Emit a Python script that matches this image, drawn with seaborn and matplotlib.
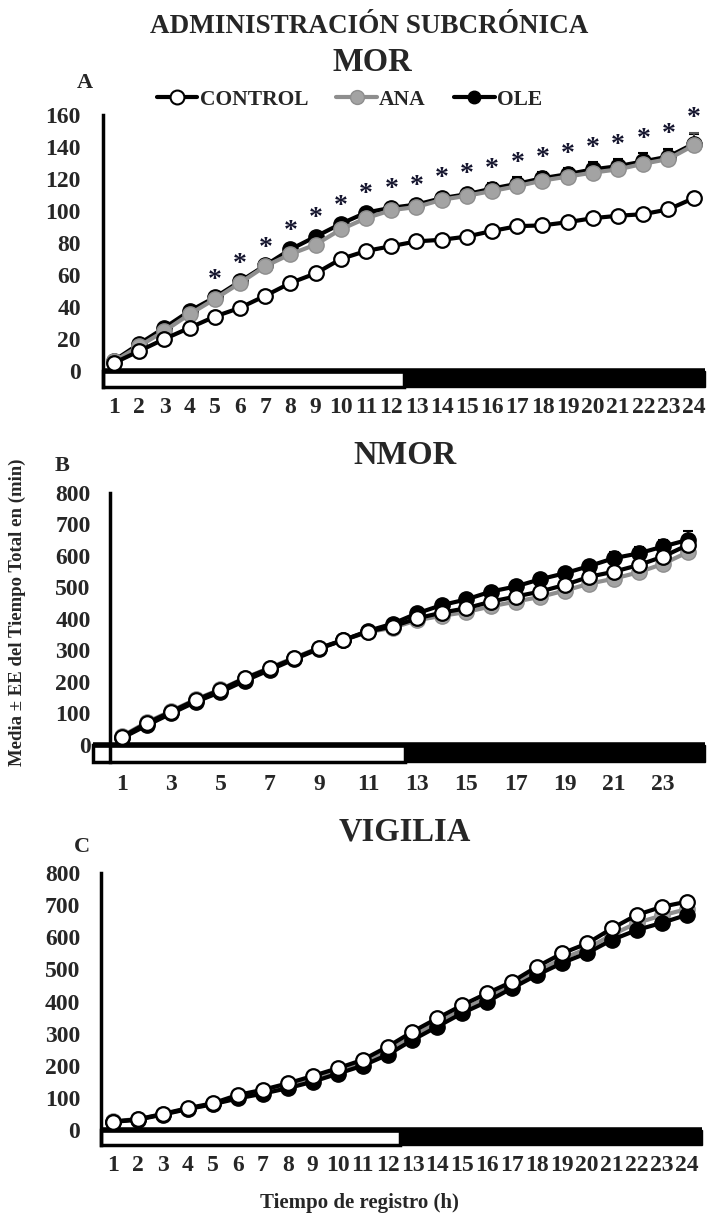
import numpy as np
import pandas as pd
import seaborn as sns
import matplotlib.pyplot as plt
from matplotlib.patches import Rectangle
from matplotlib.lines import Line2D

sns.set_style("white")
plt.rcParams["font.family"] = ["Liberation Serif", "DejaVu Serif"]
plt.rcParams["font.weight"] = "bold"

#data (minutes)
hours = list(range(1, 25))

mor_control = [5, 12.5, 20, 27, 34, 39.5, 47, 55, 61, 70, 75, 78, 81, 82, 84, 87.5, 90.5, 91, 93, 95.5, 97, 98, 101, 108]
mor_ana = [6, 15.5, 25, 35.5, 45, 55, 65.5, 73, 79, 88.5, 95.5, 100.5, 102.5, 107, 109.5, 112.5, 115.5, 119, 121.5, 124, 126, 129.5, 132.5, 141]
mor_ole = [6.5, 17, 27, 37.5, 46, 56, 66, 76, 84, 92, 99, 102, 104, 108, 110.5, 114, 117, 120.5, 123, 126, 128, 131, 134, 142]
mor_ana_se = [0.5, 1, 1, 1.5, 1.5, 2, 2, 2, 2, 2.5, 2.5, 3, 3, 3, 3.5, 3.5, 3.5, 4, 4, 4, 4.5, 4.5, 5, 8]
mor_ole_se = [0.5, 1, 1.5, 1.5, 2, 2, 2, 2.5, 2.5, 2.5, 3, 3, 3, 3.5, 3.5, 3.5, 4, 4, 4, 4.5, 4.5, 5, 5, 6]
mor_sig = list(range(5, 25))

nmor_control = [26, 69, 106, 143, 175, 212, 243, 275, 307, 333, 360, 376, 402, 420, 434, 455, 471, 487, 508, 534, 550, 571, 598, 635]
nmor_ana = [28, 72, 108, 145, 177, 213, 245, 277, 308, 333, 358, 372, 396, 410, 422, 440, 455, 470, 490, 512, 528, 548, 575, 612]
nmor_ole = [22, 62, 100, 137, 168, 204, 238, 272, 305, 333, 362, 385, 418, 444, 462, 487, 503, 526, 545, 568, 593, 608, 630, 651]
nmor_ole_se = [3, 4, 5, 6, 6, 7, 7, 8, 8, 9, 9, 10, 10, 11, 12, 13, 18, 15, 16, 17, 18, 20, 22, 28]
nmor_sig = list(range(13, 24))

vig_control = [26, 33, 50, 68, 83, 109, 125, 145, 168, 192, 218, 259, 306, 348, 389, 426, 462, 509, 550, 581, 628, 670, 695, 711]
vig_ana = [27, 34, 49, 66, 81, 103, 118, 137, 158, 182, 207, 245, 292, 335, 375, 412, 450, 495, 533, 565, 608, 645, 668, 688]
vig_ole = [25, 32, 48, 65, 80, 98, 113, 130, 150, 175, 200, 234, 280, 322, 364, 400, 442, 483, 520, 551, 592, 623, 645, 670]

fig = plt.figure(figsize=(7.07, 12.18), dpi=100)

black = "black"
gray_line = "#8e8e8e"
gray_mark = "#a3a3a3"


def draw_series(ax, y, kind, z):
    if kind == "CONTROL":
        sns.lineplot(x=hours, y=y, ax=ax, color=black, lw=3, marker="o", markersize=10.5,
                     markerfacecolor="white", markeredgecolor=black, markeredgewidth=1.6,
                     zorder=z, label=kind)
    elif kind == "ANA":
        sns.lineplot(x=hours, y=y, ax=ax, color=gray_line, lw=3, marker="o", markersize=11,
                     markerfacecolor=gray_mark, markeredgecolor=gray_line, markeredgewidth=1,
                     zorder=z, label=kind)
    else:
        sns.lineplot(x=hours, y=y, ax=ax, color=black, lw=3, marker="o", markersize=11,
                     markerfacecolor=black, markeredgecolor=black, markeredgewidth=1,
                     zorder=z, label=kind)


def style_axis(ax, xlim, ylim, yticks, xticks, box_left, ypad, xpad):
    ax.set_xlim(*xlim)
    ax.set_ylim(*ylim)
    for s in ["top", "right", "bottom"]:
        ax.spines[s].set_visible(False)
    ax.spines["left"].set_linewidth(2.5)
    ax.spines["left"].set_color(black)
    ax.set_yticks(yticks)
    ax.set_xticks(xticks)
    ax.tick_params(axis="y", length=0, pad=ypad, labelsize=17)
    ax.tick_params(axis="x", length=0, pad=xpad, labelsize=17)
    for lab in ax.get_xticklabels() + ax.get_yticklabels():
        lab.set_fontweight("bold")
    ax.set_xlabel("")
    ax.set_ylabel("")
    ax.grid(False)
    # light / dark phase bar
    ybot = ylim[0]
    ax.add_patch(Rectangle((box_left, ybot), 12.5 - box_left, -ybot, facecolor="white",
                           edgecolor=black, lw=2.5, zorder=1, clip_on=False))
    ax.add_patch(Rectangle((12.5, ybot), xlim[1] - 12.5, -ybot, facecolor=black,
                           edgecolor=black, lw=1, zorder=1, clip_on=False))
    ax.plot([box_left, xlim[1]], [0, 0], color=black, lw=4, zorder=1.5,
            solid_capstyle="butt", clip_on=False)
    if ax.get_legend() is not None:
        ax.get_legend().remove()


#Panel A - MOR
axA = fig.add_axes([0.1457, 0.6823, 0.8515, 0.2233])
axA.errorbar(hours, mor_ole, yerr=[np.zeros(24), mor_ole_se], fmt="none", ecolor=black,
             elinewidth=1.2, capsize=3.5, capthick=1.5, zorder=2)
axA.errorbar(hours, mor_ana, yerr=[np.zeros(24), mor_ana_se], fmt="none", ecolor="#555555",
             elinewidth=1.2, capsize=3.5, capthick=1.5, zorder=2)
draw_series(axA, mor_ole, "OLE", 3)
draw_series(axA, mor_ana, "ANA", 4)
draw_series(axA, mor_control, "CONTROL", 5)
for h in mor_sig:
    i = h - 1
    top = max(mor_ana[i] + mor_ana_se[i], mor_ole[i] + mor_ole_se[i])
    axA.text(h, top + 8.5, "*", ha="center", va="center", fontsize=20, color="#15152e",
             fontweight="bold", zorder=6)
style_axis(axA, (0.56, 24.45), (-10, 160), range(0, 161, 20), hours, 0.56, 16, 7)

#Panel B - NMOR
axB = fig.add_axes([0.1556, 0.3744, 0.8416, 0.2209])
axB.errorbar(hours, nmor_ole, yerr=[np.zeros(24), nmor_ole_se], fmt="none", ecolor=black,
             elinewidth=1.2, capsize=3.5, capthick=1.5, zorder=2)
draw_series(axB, nmor_ana, "ANA", 3)
draw_series(axB, nmor_ole, "OLE", 4)
draw_series(axB, nmor_control, "CONTROL", 5)
for h in nmor_sig:
    axB.text(h, nmor_ana[h - 1] - 30, "*", ha="center", va="center", fontsize=14,
             color="#bdbdbd", zorder=2)
style_axis(axB, (0.51, 24.7), (-54, 800), range(0, 801, 100), range(1, 24, 2), -0.18, 14, 9)

#Panel C - VIGILIA
axC = fig.add_axes([0.1429, 0.0599, 0.8500, 0.2233])
draw_series(axC, vig_ana, "ANA", 3)
draw_series(axC, vig_ole, "OLE", 4)
draw_series(axC, vig_control, "CONTROL", 5)
style_axis(axC, (0.52, 24.6), (-47, 800), range(0, 801, 100), hours, 0.52, 15, 7)

#titles and labels
fig.text(0.522, 0.978, "ADMINISTRACIÓN SUBCRÓNICA", ha="center", va="center", fontsize=19.5, fontweight="bold")
fig.text(0.526, 0.949, "MOR", ha="center", va="center", fontsize=23.5, fontweight="bold")
fig.text(0.573, 0.6264, "NMOR", ha="center", va="center", fontsize=23.5, fontweight="bold")
fig.text(0.573, 0.317, "VIGILIA", ha="center", va="center", fontsize=23.5, fontweight="bold")
fig.text(0.120, 0.932, "A", ha="center", va="center", fontsize=16, fontweight="bold")
fig.text(0.088, 0.617, "B", ha="center", va="center", fontsize=16, fontweight="bold")
fig.text(0.116, 0.305, "C", ha="center", va="center", fontsize=16, fontweight="bold")
fig.text(0.025, 0.4975, "Media ± EE del Tiempo Total en (min)", rotation=90, ha="center",
         va="center", fontsize=13.5, fontweight="bold")
fig.text(0.509, 0.0125, "Tiempo de registro (h)", ha="center", va="center", fontsize=15,
         fontweight="bold")

#legend
handles = [
    Line2D([], [], color=black, lw=3, marker="o", markersize=10, markerfacecolor="white",
           markeredgecolor=black, markeredgewidth=1.5),
    Line2D([], [], color=gray_line, lw=3, marker="o", markersize=10, markerfacecolor=gray_mark,
           markeredgecolor=gray_line),
    Line2D([], [], color=black, lw=3, marker="o", markersize=9, markerfacecolor=black,
           markeredgecolor=black),
]
fig.legend(handles, ["CONTROL", "ANA", "OLE"], loc="center", bbox_to_anchor=(0.494, 0.918),
           ncol=3, frameon=False, handlelength=1.9, handletextpad=0.1,
           columnspacing=1.3, prop={"weight": "bold", "size": 15.5})

plt.savefig("out.png", dpi=100)
